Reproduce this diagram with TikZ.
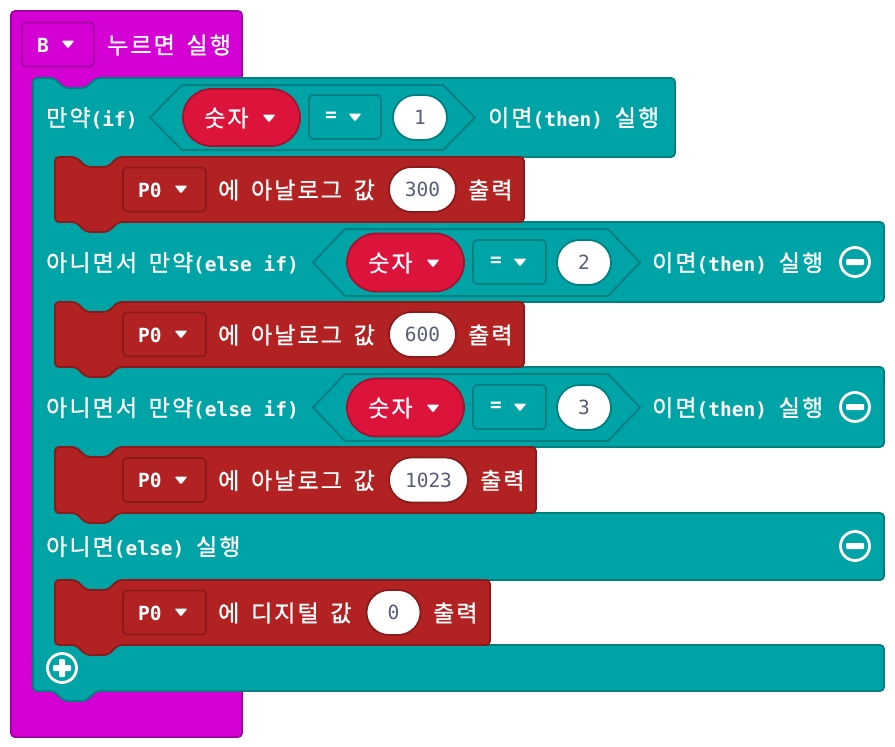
\documentclass[tikz,border=0pt]{standalone}
\usepackage{fontspec}
\setmainfont{DejaVu Sans Mono}
\newfontfamily\krfont{Noto Sans CJK KR}[LetterSpace=9, FakeBold=1]
\usetikzlibrary{shapes.misc}
\newcommand\K[1]{{\krfont\mdseries\fontsize{23}{24}\selectfont #1}}
\definecolor{hatc}{HTML}{D400D4}
\definecolor{hatb}{HTML}{A300A3}
\definecolor{logc}{HTML}{00A4A6}
\definecolor{logb}{HTML}{007F81}
\definecolor{pinc}{HTML}{B22222}
\definecolor{pinb}{HTML}{8B1B1B}
\definecolor{varc}{HTML}{DC143C}
\definecolor{varb}{HTML}{A8102E}
\definecolor{numt}{HTML}{575E75}
\newcommand\dtri[2]{\fill[white, rounded corners=1.2] (#1-6.5,#2-3.5) -- (#1+6.5,#2-3.5) -- (#1,#2+4.5) -- cycle;}
\newcommand\minusbtn[2]{\draw[white, line width=2.8] (#1,#2) circle[radius=14.5pt];
  \fill[white, rounded corners=1] (#1-9,#2-3) rectangle (#1+9,#2+3);}
\newcommand\plusbtn[2]{\draw[white, line width=2.8] (#1,#2) circle[radius=14.5pt];
  \fill[white, rounded corners=1] (#1-9,#2-3) rectangle (#1+9,#2+3);
  \fill[white, rounded corners=1] (#1-3,#2-9) rectangle (#1+3,#2+9);}
\newcommand\pinblock[3]{% top, bottom, right
  \fill[pinc, draw=pinb, line width=1.8, rounded corners=4]
    (55,#1) -- (76,#1) -- (86,#1+10) -- (108,#1+10) -- (118,#1) -- (#3,#1)
    -- (#3,#2) -- (118,#2) -- (108,#2+10) -- (86,#2+10) -- (76,#2) -- (55,#2) -- cycle;}
\newcommand\hexa[4]{% left tip x, right tip x, top y, bottom y
  \filldraw[fill=logc, draw=logb, line width=2]
    (#1,{(#3+#4)/2}) -- (#1+32,#3) -- (#2-32,#3) -- (#2,{(#3+#4)/2}) -- (#2-32,#4) -- (#1+32,#4) -- cycle;}
\tikzset{
  lbl/.style={text=white, font=\bfseries\fontsize{19.5}{22}\selectfont, anchor=west, inner sep=0pt},
  ctr/.style={text=white, font=\bfseries\fontsize{19.5}{22}\selectfont, inner sep=0pt},
  wpill/.style={rounded rectangle, fill=white, draw=#1, line width=1.8, inner sep=0pt,
     text=numt, font=\fontsize{19.5}{22}\selectfont, minimum height=45pt},
  vpill/.style={rounded rectangle, fill=varc, draw=varb, line width=1.8, inner sep=0pt,
     minimum width=117pt, minimum height=58pt},
  ddbox/.style 2 args={rectangle, rounded corners=4, fill=#1, draw=#2, line width=1.8,
     inner sep=0pt, minimum height=44pt}
}
\begin{document}
\begin{tikzpicture}[x=1pt,y=-1pt]
\fill[white] (0,0) rectangle (895,747);
\useasboundingbox (0,0) rectangle (895,747);
% hat block
\filldraw[fill=hatc, draw=hatb, line width=1.8, rounded corners=4] (11,11) rectangle (242,737);
\node[ddbox={hatc}{hatb}, minimum width=72pt] (bbox) at (58,44.5) {};
\node[ctr] (btxt) at (43,45) {B};
\dtri{68}{44}
\node[lbl] (hat) at (107,45) {\K{누르면} \K{실행}};
% logic block
\filldraw[fill=logc, draw=logb, line width=1.8, rounded corners=4]
  (33,78) -- (54,78) -- (64,88) -- (86,88) -- (96,78)
  -- (675,78) -- (675,157)
  -- (118,157) -- (108,167) -- (86,167) -- (76,157) -- (55,157)
  -- (55,222) -- (884,222) -- (884,302)
  -- (118,302) -- (108,312) -- (86,312) -- (76,302) -- (55,302)
  -- (55,367) -- (884,367) -- (884,447)
  -- (118,447) -- (108,457) -- (86,457) -- (76,447) -- (55,447)
  -- (55,513) -- (884,513) -- (884,580)
  -- (118,580) -- (108,590) -- (86,590) -- (76,580) -- (55,580)
  -- (55,645) -- (884,645) -- (884,691)
  -- (96,691) -- (86,701) -- (64,701) -- (54,691) -- (33,691) -- cycle;
% row 1
\node[lbl] (if1) at (46,118) {\K{만약}(if)};
\hexa{150}{475}{85}{150}
\node[vpill, minimum height=57pt] (v1) at (241.5,117.5) {};
\node[lbl] (v1t) at (204,118) {\K{숫자}};
\dtri{269}{118}
\node[ddbox={logc}{logb}, minimum width=72pt] (e1) at (345,117) {};
\node[ctr] (e1t) at (331,117) {=};
\dtri{355}{117}
\node[wpill=logb, minimum width=54pt] (n1) at (420,117.5) {1};
\node[lbl] (th1) at (488,118) {\K{이면}(then) \K{실행}};
% row 2
\node[lbl] (if2) at (46,263) {\K{아니면서} \K{만약}(else if)};
\hexa{313}{640}{229}{296}
\node[vpill] (v2) at (405.5,262.5) {};
\node[lbl] (v2t) at (368,263) {\K{숫자}};
\dtri{433}{263}
\node[ddbox={logc}{logb}, minimum width=73pt] (e2) at (509.5,262) {};
\node[ctr] (e2t) at (496,262) {=};
\dtri{520}{262}
\node[wpill=logb, minimum width=54pt] (n2) at (584,262.5) {2};
\node[lbl] (th2) at (652,263) {\K{이면}(then) \K{실행}};
\minusbtn{855}{262}
% row 3
\node[lbl] (if3) at (46,408) {\K{아니면서} \K{만약}(else if)};
\hexa{313}{640}{374}{441}
\node[vpill] (v3) at (405.5,407.5) {};
\node[lbl] (v3t) at (368,408) {\K{숫자}};
\dtri{433}{408}
\node[ddbox={logc}{logb}, minimum width=73pt] (e3) at (509.5,407) {};
\node[ctr] (e3t) at (496,407) {=};
\dtri{520}{407}
\node[wpill=logb, minimum width=54pt] (n3) at (584,407.5) {3};
\node[lbl] (th3) at (652,408) {\K{이면}(then) \K{실행}};
\minusbtn{855}{407}
% row 4
\node[lbl] (el4) at (46,547) {\K{아니면}(else) \K{실행}};
\minusbtn{855}{546}
\plusbtn{62}{668}
% pin blocks
\pinblock{157}{222}{524}
\node[ddbox={pinc}{pinb}, minimum width=83pt] (p1) at (164.5,189.5) {};
\node[lbl] (p1t) at (138,190) {P0};
\dtri{181}{189}
\node[lbl] (a1) at (218,190) {\K{에} \K{아날로그} \K{값}};
\node[wpill=pinb, minimum width=67pt] (m1) at (422.5,189.5) {300};
\node[lbl] (o1) at (468,190) {\K{출력}};

\pinblock{302}{367}{524}
\node[ddbox={pinc}{pinb}, minimum width=83pt] (p2) at (164.5,334.5) {};
\node[lbl] (p2t) at (138,335) {P0};
\dtri{181}{334}
\node[lbl] (a2) at (218,335) {\K{에} \K{아날로그} \K{값}};
\node[wpill=pinb, minimum width=67pt] (m2) at (422.5,334.5) {600};
\node[lbl] (o2) at (468,335) {\K{출력}};

\pinblock{447}{513}{536}
\node[ddbox={pinc}{pinb}, minimum width=83pt] (p3) at (164.5,480) {};
\node[lbl] (p3t) at (138,480.5) {P0};
\dtri{181}{480}
\node[lbl] (a3) at (218,480.5) {\K{에} \K{아날로그} \K{값}};
\node[wpill=pinb, minimum width=79pt] (m3) at (428.5,480) {1023};
\node[lbl] (o3) at (480,480.5) {\K{출력}};

\pinblock{580}{645}{490}
\node[ddbox={pinc}{pinb}, minimum width=83pt] (p4) at (164.5,612.5) {};
\node[lbl] (p4t) at (138,613) {P0};
\dtri{181}{612}
\node[lbl] (a4) at (218,613) {\K{에} \K{디지털} \K{값}};
\node[wpill=pinb, minimum width=54pt] (m4) at (393.5,612.5) {0};
\node[lbl] (o4) at (433,613) {\K{출력}};
\end{tikzpicture}
\end{document}
